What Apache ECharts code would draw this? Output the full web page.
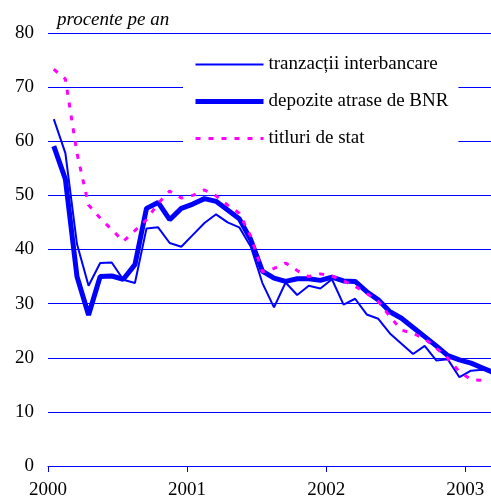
<!DOCTYPE html>
<html>
<head>
<meta charset="utf-8">
<script src="https://cdn.jsdelivr.net/npm/echarts@6/dist/echarts.min.js"></script>
<style>
  html, body { margin: 0; padding: 0; background: #fff; }
  #main { width: 491px; height: 499px; }
</style>
</head>
<body>
<div id="main"></div>
<script>
// luni: ianuarie 2000 - martie 2003
var luni = [];
for (var an = 2000; an <= 2003; an++) {
    for (var l = 1; l <= 12; l++) {
        if (an === 2003 && l > 3) break;
        luni.push(an + '-' + (l < 10 ? '0' + l : l));
    }
}

var tranzactii = [64.1, 57.8, 41.0, 33.3, 37.5, 37.6, 34.4, 33.8, 43.9, 44.1, 41.2, 40.5,
    42.7, 44.9, 46.5, 45.0, 44.1, 40.5, 33.8, 29.3, 33.9, 31.6, 33.3, 32.8,
    34.5, 29.8, 30.9, 28.0, 27.2, 24.5, 22.6, 20.7, 22.2, 19.5, 19.7, 16.4,
    17.6, 17.8, 17.7];
var depozite = [59.1, 53.0, 35.0, 27.9, 35.0, 35.1, 34.5, 37.2, 47.6, 48.7, 45.5, 47.6,
    48.4, 49.4, 48.9, 47.3, 45.7, 41.8, 36.0, 34.7, 34.1, 34.6, 34.6, 34.3,
    34.9, 34.2, 34.1, 32.2, 30.7, 28.5, 27.3, 25.6, 23.9, 22.2, 20.4, 19.6,
    19.0, 18.1, 17.2];
var titluri = [73.3, 71.5, 57.8, 48.2, 45.8, 43.7, 41.5, 43.5, 45.5, 48.5, 50.8, 49.5,
    50.0, 51.0, 49.9, 48.2, 46.7, 42.4, 35.9, 36.5, 37.5, 36.1, 35.0, 35.5,
    35.1, 34.2, 33.2, 31.9, 30.4, 27.6, 25.1, 24.5, 23.5, 21.8, 19.9, 17.4,
    16.0, 15.8, null];

// fiecare luna e pusa la mijlocul intervalului ei
function puncte(valori) {
    return luni.map(function (m, i) { return [i + 0.5, valori[i]]; });
}

var font = 'Liberation Serif';
var albastru = '#0000ff';
var magenta = '#ff00ff';

var chart = echarts.init(document.getElementById('main'));
var option = {
    animation: false,
    title: {
        text: 'procente pe an',
        left: 57,
        top: 10,
        padding: 0,
        textStyle: { fontFamily: font, fontSize: 19, fontStyle: 'italic', fontWeight: 'normal', color: '#000' }
    },
    legend: {
        orient: 'vertical',
        left: 183,
        top: 47,
        padding: [8, 10, 8, 10],
        backgroundColor: '#fff',
        itemWidth: 68,
        itemHeight: 14,
        itemGap: 18,
        itemStyle: { opacity: 0 },
        textStyle: { fontFamily: font, fontSize: 19, color: '#000' },
        data: [
            { name: 'tranzacții interbancare', lineStyle: { color: albastru, width: 2 } },
            { name: 'depozite atrase de BNR', lineStyle: { color: albastru, width: 5 } },
            { name: 'titluri de stat', lineStyle: { color: magenta, width: 3, type: [5, 8] } }
        ]
    },
    // graficul continua dincolo de marginea dreapta (taiat ca in original)
    grid: { left: 48, top: 33, width: 452, height: 433, outerBoundsMode: 'none' },
    xAxis: {
        type: 'value',
        min: 0,
        max: 39,
        interval: 12,
        axisLine: { lineStyle: { color: albastru, width: 1 } },
        axisTick: { show: true, length: 6, lineStyle: { color: albastru, width: 1 } },
        splitLine: { show: false },
        axisLabel: {
            margin: 15,
            fontFamily: font,
            fontSize: 19,
            color: '#000',
            formatter: function (v) { return v % 12 === 0 ? String(2000 + v / 12) : ''; }
        }
    },
    yAxis: {
        type: 'value',
        min: 0,
        max: 80,
        interval: 10,
        axisLine: { show: false },
        axisTick: { show: false },
        splitLine: { lineStyle: { color: albastru, width: 1 } },
        axisLabel: { margin: 14, fontFamily: font, fontSize: 19, color: '#000' }
    },
    series: [
        {
            name: 'tranzacții interbancare',
            type: 'line',
            symbol: 'none',
            data: puncte(tranzactii),
            itemStyle: { color: albastru },
            lineStyle: { color: albastru, width: 2 }
        },
        {
            name: 'depozite atrase de BNR',
            type: 'line',
            symbol: 'none',
            data: puncte(depozite),
            itemStyle: { color: albastru },
            lineStyle: { color: albastru, width: 5 }
        },
        {
            name: 'titluri de stat',
            type: 'line',
            symbol: 'none',
            data: puncte(titluri),
            itemStyle: { color: magenta },
            lineStyle: { color: magenta, width: 3, type: [5, 8] }
        }
    ]
};
chart.setOption(option);
</script>
</body>
</html>
